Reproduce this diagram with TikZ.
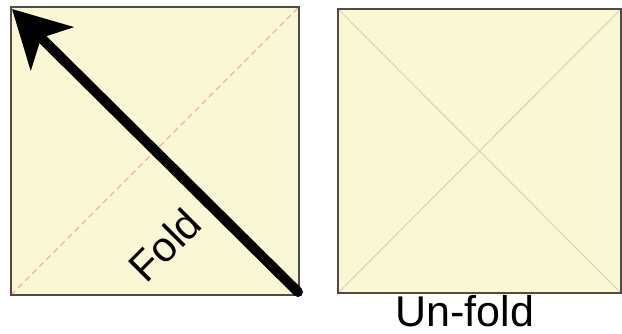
\documentclass[tikz,border=0pt]{standalone}
\usepackage{fontspec}
\setmainfont{Liberation Sans}
\usetikzlibrary{arrows.meta,calc}
\definecolor{paper}{HTML}{FAF7D4}
\definecolor{edge}{HTML}{4E4C44}
\definecolor{foldline}{HTML}{F0B49C}
\definecolor{crease}{HTML}{D6D2B6}
\tikzset{
  sheet/.style={draw=edge, line width=1.4pt, fill=paper, inner sep=0pt, outer sep=0pt},
  dashline/.style={draw=foldline, line width=1.1pt, dash pattern=on 6pt off 4pt},
  creaseline/.style={draw=crease, line width=1pt},
  bigarrow/.style={line width=10pt, line cap=round, -{Stealth[length=56pt,width=60pt,inset=15pt]}},
  lbl/.style={inner sep=0pt, text=black}
}
\begin{document}
\begin{tikzpicture}[x=1pt,y=1pt]
\useasboundingbox (0,0) rectangle (622,333);
\node[sheet, minimum width=288pt, minimum height=288pt] (L) at (155,182) {};
\node[sheet, minimum width=283pt, minimum height=284pt] (R) at (479.5,182) {};
% fold line (dashed)
\draw[dashline] (L.south west) -- (L.north east);
% creases
\draw[creaseline] (R.north west) -- (R.south east);
\draw[creaseline] (R.south west) -- (R.north east);
\draw[edge, line width=1.4pt] (L.south west) rectangle (L.north east);
\draw[edge, line width=1.4pt] (R.south west) rectangle (R.north east);
% arrow
\coordinate (as) at ($(L.south east)+(-1,3)$);
\coordinate (ae) at ($(L.north west)+(1,-2)$);
\draw[bigarrow] (as) -- (ae);
\node[lbl, rotate=45, font=\fontsize{42}{46}\selectfont] (fold) at (165,88) {Fold};
\node[lbl, anchor=base, font=\fontsize{43}{47}\selectfont] (unfold) at (465,7) {Un-fold};
\end{tikzpicture}
\end{document}
